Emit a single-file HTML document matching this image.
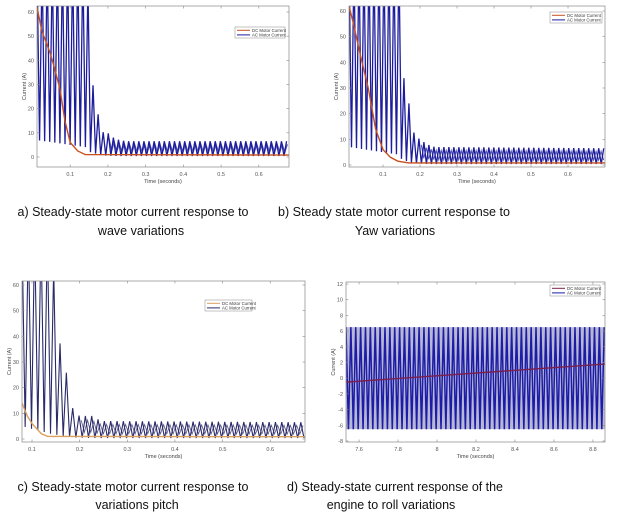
<!DOCTYPE html>
<html><head><meta charset="utf-8"><style>
html,body{margin:0;padding:0;background:#fff;}
svg{display:block;font-family:"Liberation Sans",sans-serif;}
</style></head><body>
<svg id="fig" width="624" height="517" viewBox="0 0 624 517">
<g id="panels"></g>
<g font-size="13" fill="#111">
<text x="133" y="216" text-anchor="middle" textLength="231" lengthAdjust="spacingAndGlyphs">a) Steady-state motor current response to</text>
<text x="141" y="235" text-anchor="middle" font-size="12.5">wave variations</text>
<text x="394" y="216" text-anchor="middle" textLength="232" lengthAdjust="spacingAndGlyphs">b) Steady state motor current response to</text>
<text x="395" y="235" text-anchor="middle" font-size="12.5">Yaw variations</text>
<text x="133" y="491" text-anchor="middle" textLength="231" lengthAdjust="spacingAndGlyphs">c) Steady-state motor current response to</text>
<text x="137" y="509" text-anchor="middle" font-size="12.5">variations pitch</text>
<text x="395" y="491" text-anchor="middle" textLength="216" lengthAdjust="spacingAndGlyphs">d) Steady-state current response of the</text>
<text x="391" y="509" text-anchor="middle" font-size="12.5">engine to roll variations</text>
</g>
</svg>
<script>
// ---- Panel a data ----
const aEnvT = [0.012,0.145,0.152,0.16,0.166,0.172,0.178,0.185,0.195,0.205,0.215,0.23,0.25,0.68];
const aHi   = [80,80,48,30,26,20,13,10,11,9,8,7,6.5,6.5];
const aLo   = [7,4,2,2,1.5,1,1,0.8,0.6,0.5,0.5,0.4,0.4,0.4];
const aDcT  = [0.012,0.025,0.047,0.06,0.073,0.086,0.1,0.12,0.14,0.68];
const aDcV  = [62,52,43,36,28,15,6,2.5,1,0.8];
const aXTicks = [0.1,0.2,0.3,0.4,0.5,0.6];
const aYTicks = [0,10,20,30,40,50,60];
// ---- Panel b data ----
const bEnvT = [0.008,0.145,0.151,0.158,0.164,0.17,0.176,0.182,0.19,0.2,0.21,0.22,0.24,0.7];
const bHi   = [80,80,48,30,27,24,20,13,11,10,9,8,7,6.5];
const bLo   = [7,4,2,2,1.5,1,1,0.8,0.6,0.5,0.5,0.4,0.4,0.4];
const bDcT  = [0.008,0.02,0.04,0.06,0.08,0.1,0.12,0.14,0.17,0.7];
const bDcV  = [62,55,42,30,14,6,3,1.5,0.8,0.8];
const bXTicks = [0.1,0.2,0.3,0.4,0.5,0.6];
const bYTicks = [0,10,20,30,40,50,60];
// ---- Panel c data ----
const cEnvT = [0.079,0.14,0.155,0.164,0.172,0.181,0.19,0.2,0.21,0.225,0.245,0.673];
const cHi   = [80,80,44,28,26,14,10,9,9,9,7,6.5];
const cLo   = [5,2,1.5,1,1,0.8,0.6,0.5,0.5,0.4,0.4,0.4];
const cDcT  = [0.079,0.09,0.1,0.11,0.12,0.133,0.673];
const cDcV  = [14,9,6,4,2,1,0.9];
const cXTicks = [0.1,0.2,0.3,0.4,0.5,0.6];
const cYTicks = [0,10,20,30,40,50,60];
// ---- Panel d data ----
const dEnvT = [7.533,8.862];
const dHi   = [6.5,6.5];
const dLo   = [-6.5,-6.5];
const dDcT  = [7.533,8.862];
const dDcV  = [-0.5,1.8];
const dXTicks = [7.6,7.8,8,8.2,8.4,8.6,8.8];
const dYTicks = [-8,-6,-4,-2,0,2,4,6,8,10,12];

const NS='http://www.w3.org/2000/svg';
const root=document.getElementById('panels');
function mk(tag,attrs,parent){const e=document.createElementNS(NS,tag);for(const k in attrs)e.setAttribute(k,attrs[k]);(parent||root).appendChild(e);return e;}
function interp(ts,vs,t){if(t<=ts[0])return vs[0];for(let i=1;i<ts.length;i++){if(t<=ts[i]){const f=(t-ts[i-1])/(ts[i]-ts[i-1]);return vs[i-1]+f*(vs[i]-vs[i-1]);}}return vs[vs.length-1];}

function panel(cfg){
  const g=mk('g',{});
  
  
  const sx=t=>cfg.x0+(t-cfg.tmin)/(cfg.tmax-cfg.tmin)*(cfg.x1-cfg.x0);
  const sy=v=>cfg.yv0+(v-cfg.vmin)/(cfg.vmax-cfg.vmin)*(cfg.yv1-cfg.yv0);
  const cid='clip-'+cfg.name;
  const cp=mk('clipPath',{id:cid},g);
  mk('rect',{x:cfg.x0,y:cfg.top,width:cfg.x1-cfg.x0,height:cfg.bot-cfg.top},cp);
  const plot=mk('g',{'clip-path':'url(#'+cid+')'},g);
  if(cfg.fill){
    const bg=mk('rect',{x:cfg.x0,y:sy(6.5),width:cfg.x1-cfg.x0,height:sy(-6.5)-sy(6.5),fill:cfg.fill},plot);
    
    
  }
  const tEnd=cfg.envT[cfg.envT.length-1];
  // secondary overlapping oscillation in steady state
  if(cfg.steady!==undefined){
    let p2=[];let j=0;
    for(let t=cfg.steady+cfg.period/4;t<=tEnd+1e-9;t+=cfg.period/2){
      const hi=interp(cfg.envT,cfg.hi,t),lo=interp(cfg.envT,cfg.lo,t);
      const v=(j%2===0)?lo+(hi-lo)*0.8:lo+(hi-lo)*0.25;
      p2.push(sx(t).toFixed(2)+','+sy(v).toFixed(2));j++;
    }
    const ac2=mk('polyline',{points:p2.join(' '),fill:'none',stroke:cfg.acColor,'stroke-width':cfg.acW*0.8,opacity:0.75},plot);
    
    
  }
  // AC signal
  let pts=[];let k=0;
  for(let t=cfg.envT[0];t<=tEnd+1e-9;t+=cfg.period/2){
    const v=(k%2===0)?interp(cfg.envT,cfg.hi,t):interp(cfg.envT,cfg.lo,t);
    pts.push(sx(t).toFixed(2)+','+sy(v).toFixed(2));k++;
  }
  const ac=mk('polyline',{points:pts.join(' '),fill:'none',stroke:cfg.acColor,'stroke-width':cfg.acW,'stroke-linejoin':'miter'},plot);
  
  
  // DC
  const dp=cfg.dcT.map((t,i)=>sx(t).toFixed(2)+','+sy(cfg.dcV[i]).toFixed(2)).join(' ');
  const dc=mk('polyline',{points:dp,fill:'none',stroke:cfg.dcColor,'stroke-width':1.4},plot);
  
  
  // box
  const box=mk('rect',{x:cfg.x0,y:cfg.top,width:cfg.x1-cfg.x0,height:cfg.bot-cfg.top,fill:'none',stroke:'#888','stroke-width':0.7},g);
  
  
  cfg.xt.forEach(t=>{
    const X=sx(t);
    mk('line',{x1:X,x2:X,y1:cfg.bot,y2:cfg.bot-2.5,stroke:'#888','stroke-width':0.6},g);
    mk('line',{x1:X,x2:X,y1:cfg.top,y2:cfg.top+2.5,stroke:'#888','stroke-width':0.6},g);
    const tx=mk('text',{x:X,y:cfg.bot+9,'font-size':5.5,fill:'#555','text-anchor':'middle'},g);
    tx.textContent=String(t);
    
    
  });
  cfg.yt.forEach(v=>{
    const Y=sy(v);
    mk('line',{x1:cfg.x0,x2:cfg.x0+2.5,y1:Y,y2:Y,stroke:'#888','stroke-width':0.6},g);
    mk('line',{x1:cfg.x1,x2:cfg.x1-2.5,y1:Y,y2:Y,stroke:'#888','stroke-width':0.6},g);
    const ty=mk('text',{x:cfg.x0-3,y:Y+2,'font-size':5.5,fill:'#555','text-anchor':'end'},g);
    ty.textContent=String(v);
    
    
  });
  const xl=mk('text',{x:(cfg.x0+cfg.x1)/2,y:cfg.bot+16,'font-size':5.5,fill:'#444','text-anchor':'middle'},g);
  xl.textContent='Time (seconds)';
  
  
  const yx=cfg.x0-11, yy=(cfg.top+cfg.bot)/2;
  const yl=mk('text',{x:yx,y:yy,'font-size':5.5,fill:'#444','text-anchor':'middle',transform:'rotate(-90 '+yx+' '+yy+')'},g);
  yl.textContent='Current (A)';
  
  
  // legend
  const L=cfg.leg;
  const lg=mk('g',{},g);
  
  
  mk('rect',{x:L[0],y:L[1],width:L[2],height:11,fill:'#fff',stroke:'#888','stroke-width':0.5},lg);
  [['DC Motor Current',cfg.dcColor],['AC Motor Current',cfg.acColor]].forEach((e,i)=>{
    const y=L[1]+3.3+i*4.6;
    const ln=mk('line',{x1:L[0]+2,x2:L[0]+15,y1:y,y2:y,stroke:e[1],'stroke-width':1},lg);
    
    
    const t=mk('text',{x:L[0]+17,y:y+1.6,'font-size':4.3,fill:'#333'},lg);
    t.textContent=e[0];
    
    
  });
}

panel({name:'panel-a',x0:37,x1:289,top:6,bot:167,tmin:0.012,tmax:0.68,vmin:0,vmax:60,yv0:157,yv1:12,
  envT:aEnvT,hi:aHi,lo:aLo,dcT:aDcT,dcV:aDcV,xt:aXTicks,yt:aYTicks,period:0.0135,steady:0.2,
  acColor:'#1c1c9c',acW:1.3,dcColor:'#c8501e',leg:[235,27,50]});
panel({name:'panel-b',x0:349,x1:605,top:6,bot:167,tmin:0.008,tmax:0.70,vmin:0,vmax:60,yv0:165,yv1:11,
  envT:bEnvT,hi:bHi,lo:bLo,dcT:bDcT,dcV:bDcV,xt:bXTicks,yt:bYTicks,period:0.0135,steady:0.2,
  acColor:'#1c1c9c',acW:1.3,dcColor:'#c8501e',leg:[550,12,52]});
panel({name:'panel-c',x0:22,x1:305,top:281,bot:442,tmin:0.079,tmax:0.673,vmin:0,vmax:60,yv0:439,yv1:285,
  envT:cEnvT,hi:cHi,lo:cLo,dcT:cDcT,dcV:cDcV,xt:cXTicks,yt:cYTicks,period:0.0133,steady:0.2,
  acColor:'#2a2a6a',acW:1.1,dcColor:'#d9a060',leg:[205,300,47]});
panel({name:'panel-d',x0:346,x1:605,top:282,bot:442,tmin:7.533,tmax:8.862,vmin:-8,vmax:12,yv0:441,yv1:284,
  envT:dEnvT,hi:dHi,lo:dLo,dcT:dDcT,dcV:dDcV,xt:dXTicks,yt:dYTicks,period:0.025,
  acColor:'#1c1ca8',acW:1.5,dcColor:'#7a1f4f',leg:[550,285,50],fill:'#b8b8d4'});
</script>
</body></html>
